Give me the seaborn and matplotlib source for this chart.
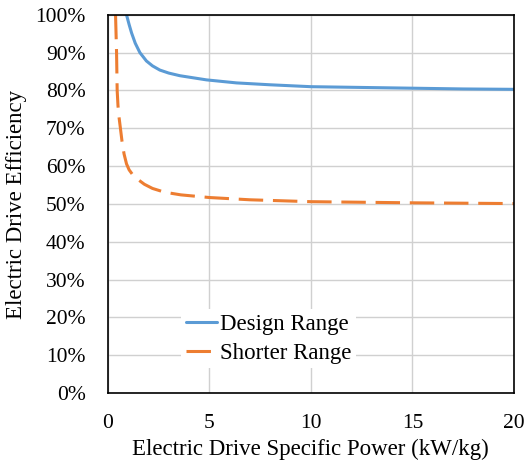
import matplotlib
matplotlib.use("Agg")
import matplotlib.pyplot as plt
import matplotlib.ticker as mticker
import pandas as pd
import seaborn as sns

# Valeurs (puissance spécifique en kW/kg, rendement en %)
design_power = [0.92, 1.05, 1.17, 1.35, 1.58, 1.9, 2.2, 2.56, 3.0, 3.55, 4.86, 6.34, 8.0,
                10.0, 12.5, 15.0, 17.5, 20.0]
design_eff = [100.0, 97.4, 95.2, 92.5, 90.0, 87.8, 86.5, 85.4, 84.6, 83.9, 82.8, 82.0, 81.5,
              81.0, 80.8, 80.6, 80.4, 80.3]

shorter_power = [0.38, 0.43, 0.46, 0.5, 0.55, 0.62, 0.7, 0.8, 0.92, 1.05, 1.2, 1.5, 1.8,
                 2.2, 2.8, 3.6, 5.0, 7.0, 10.0, 15.0, 20.0]
shorter_eff = [100.0, 90.0, 80.0, 76.0, 73.0, 70.0, 66.5, 63.2, 60.6, 59.0, 57.9, 56.4, 55.2,
               54.1, 53.1, 52.4, 51.7, 51.1, 50.6, 50.3, 50.1]

x_ticks = [0, 5, 10, 15, 20]
y_ticks = list(range(0, 101, 10))

COULEURS = {"Design Range": "#5B9BD5", "Shorter Range": "#ED7D31"}

df = pd.concat([
    pd.DataFrame({"power": design_power, "eff": design_eff, "serie": "Design Range"}),
    pd.DataFrame({"power": shorter_power, "eff": shorter_eff, "serie": "Shorter Range"}),
])

sns.set_theme(style="whitegrid")
plt.rcParams["font.family"] = ["Liberation Serif", "DejaVu Serif"]

fig = plt.figure(figsize=(5.26, 4.63), dpi=100)
ax = fig.add_axes([0.205, 0.151, 0.772, 0.817])

sns.lineplot(
    data=df, x="power", y="eff", hue="serie", style="serie",
    palette=COULEURS, dashes={"Design Range": "", "Shorter Range": (8, 3.2)},
    sort=False, estimator=None, linewidth=2.2, ax=ax,
)

ax.set_xlim(0, 20)
ax.set_ylim(0, 100)
ax.set_xticks(x_ticks)
ax.set_yticks(y_ticks)
ax.yaxis.set_major_formatter(mticker.FuncFormatter(lambda v, _: f"{v:.0f}%"))
ax.tick_params(axis="both", length=0, labelsize=15.5, colors="black")
ax.tick_params(axis="x", pad=15)
ax.tick_params(axis="y", pad=16)

ax.grid(True, color="#d0d0d0", linewidth=1.0)
for sp in ax.spines.values():
    sp.set_visible(True)
    sp.set_color("black")
    sp.set_linewidth(1.2)

ax.set_xlabel("Electric Drive Specific Power (kW/kg)", fontsize=16.5, color="black", labelpad=4)
ax.set_ylabel("Electric Drive Efficiency", fontsize=16.5, color="black", labelpad=6)

leg = ax.legend(
    loc="lower left", bbox_to_anchor=(0.153, 0.035), fontsize=16.5,
    frameon=True, framealpha=1, facecolor="white", edgecolor="none",
    handlelength=1.35, handletextpad=0.15, borderpad=0.2, labelspacing=0.35,
)
for txt in leg.get_texts():
    txt.set_color("black")

fig.savefig("out.png", dpi=100)
